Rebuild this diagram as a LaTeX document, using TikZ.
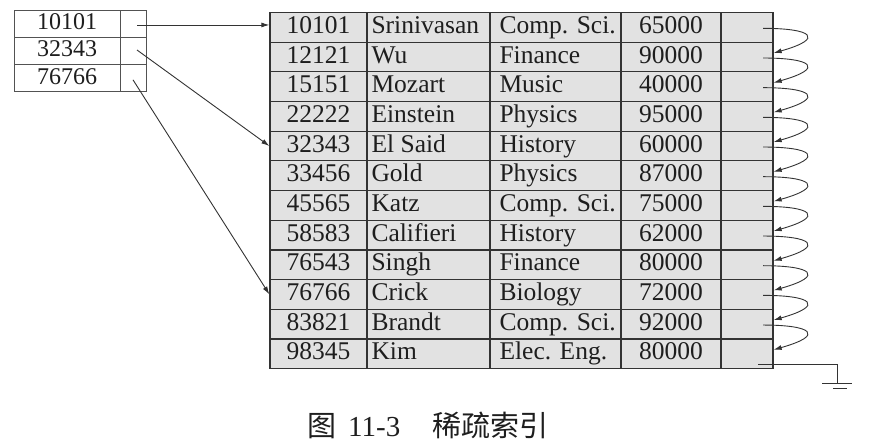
\documentclass[tikz,border=0pt]{standalone}
\usepackage{fontspec}
\setmainfont{Liberation Serif}
\newfontfamily\cjk{Noto Sans CJK SC}
\usetikzlibrary{arrows.meta,calc}
\definecolor{tgray}{HTML}{E2E2E2}
\definecolor{linec}{HTML}{333333}
\definecolor{txt}{HTML}{1E1E1E}
\begin{document}
\begin{tikzpicture}[x=1pt,y=-1pt,
  base/.style={inner sep=0pt, text height=17pt, text depth=5pt, font=\fontsize{25.5}{25.5}\selectfont, text=txt},
  cell/.style={base, draw=linec, line width=1.3pt, fill=tgray, minimum height=29.67pt, minimum width=#1},
  ltext/.style={base, anchor=west},
  icell/.style={base, draw=linec!85, line width=1pt, fill=white, minimum height=27.33pt, minimum width=#1, font=\fontsize{24}{24}\selectfont},
  ptr/.style={draw=linec, line width=0.9pt, -{Latex[length=8pt,width=5pt]}},
  plain/.style={draw=linec, line width=0.9pt}
]
\useasboundingbox (0,0) rectangle (882,446);

% index file
\foreach \vk/\vy in {10101/23.67, 32343/51, 76766/78.33}{
  \node[icell=106pt] (ik\vk) at (67,\vy) {\vk};
  \node[icell=26pt] (ip\vk) at (133,\vy) {};
}

% main table
\foreach \vid/\vnm/\vdep/\vsal [count=\vr from 0] in {
  10101/Srinivasan/Comp. Sci./65000,
  12121/Wu/Finance/90000,
  15151/Mozart/Music/40000,
  22222/Einstein/Physics/95000,
  32343/El Said/History/60000,
  33456/Gold/Physics/87000,
  45565/Katz/Comp. Sci./75000,
  58583/Califieri/History/62000,
  76543/Singh/Finance/80000,
  76766/Crick/Biology/72000,
  83821/Brandt/Comp. Sci./92000,
  98345/Kim/Elec. Eng./80000}{
  \pgfmathsetmacro\vyc{12.5+(\vr+0.5)*29.67}
  \node[cell=97pt] (a\vr) at (318.5,\vyc) {\vid};
  \node[cell=123pt] (b\vr) at (428.5,\vyc) {};
  \node[ltext] (bt\vr) at ([xshift=5pt]b\vr.west) {\vnm};
  \node[cell=131pt] (c\vr) at (555.5,\vyc) {};
  \node[ltext] (ct\vr) at ([xshift=10pt]c\vr.west) {\vdep};
  \node[cell=100pt] (d\vr) at (671,\vyc) {\vsal};
  \node[cell=52pt] (p\vr) at (747,\vyc) {};
}

% index pointers
\coordinate (s1) at ($(ip10101.center)+(4,1.3)$);
\draw[ptr] (s1) -- (s1 -| a0.west);
\coordinate (s2) at ($(ip32343.center)+(4,-1)$);
\draw[ptr] (s2) -- (a4.west);
\coordinate (s3) at ($(ip76766.center)+(0,1.5)$);
\draw[ptr] (s3) -- (a9.west);

% chain pointers
\foreach \vi [evaluate=\vi as \vj using int(\vi+1)] in {0,...,10}{
  \coordinate (cs\vi) at ([xshift=16pt,yshift=-1pt]p\vi.center);
  \coordinate (ce\vi) at ([yshift=4pt]p\vj.east);
  \draw[ptr] (cs\vi) .. controls +(49,0) and +(52,-14.67) .. (ce\vi);
}

% last pointer to null
\coordinate (last) at ([xshift=11pt]p11.center |- 0,364);
\coordinate (gnd) at (837,383);
\draw[plain] (last) -| (gnd);
\draw[plain] (822,383) -- (852,383);
\draw[plain] (833,388) -- (847,388);

% caption
\node[anchor=west, inner sep=0pt, text=txt, font=\fontsize{29}{29}\selectfont] (cap) at (307,425)
  {{\cjk 图}\hspace{12pt}11-3\hspace{32pt}{\cjk 稀疏索引}};
\end{tikzpicture}
\end{document}
